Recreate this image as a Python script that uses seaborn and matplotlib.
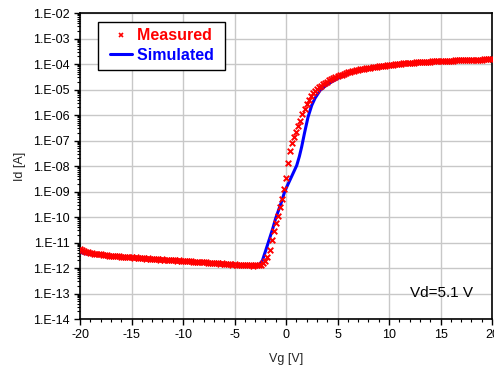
import numpy as np
import pandas as pd
import matplotlib
matplotlib.use("Agg")
import matplotlib.pyplot as plt
import seaborn as sns
from matplotlib.ticker import FixedLocator, LogLocator, FuncFormatter, MultipleLocator, NullFormatter
from matplotlib.lines import Line2D
from matplotlib.legend_handler import HandlerLine2D

# ---------------- data ----------------
vg_measured = [
    -20.0, -19.8, -19.6, -19.4, -19.2, -19.0, -18.8, -18.6, -18.4, -18.2,
    -18.0, -17.8, -17.6, -17.4, -17.2, -17.0, -16.8, -16.6, -16.4, -16.2,
    -16.0, -15.8, -15.6, -15.4, -15.2, -15.0, -14.8, -14.6, -14.4, -14.2,
    -14.0, -13.8, -13.6, -13.4, -13.2, -13.0, -12.8, -12.6, -12.4, -12.2,
    -12.0, -11.8, -11.6, -11.4, -11.2, -11.0, -10.8, -10.6, -10.4, -10.2,
    -10.0, -9.8, -9.6, -9.4, -9.2, -9.0, -8.8, -8.6, -8.4, -8.2,
    -8.0, -7.8, -7.6, -7.4, -7.2, -7.0, -6.8, -6.6, -6.4, -6.2,
    -6.0, -5.8, -5.6, -5.4, -5.2, -5.0, -4.8, -4.6, -4.4, -4.2,
    -4.0, -3.8, -3.6, -3.4, -3.2, -3.0,
    -2.8, -2.6, -2.4, -2.2, -2.0, -1.8, -1.6, -1.4, -1.2, -1.0,
    -0.8, -0.6, -0.4, -0.2, 0.0, 0.2, 0.4, 0.6, 0.8, 1.0,
    1.2, 1.4, 1.6, 1.8, 2.0, 2.2, 2.4, 2.6, 2.8, 3.0,
    3.2, 3.4, 3.6, 3.8, 4.0, 4.2, 4.4, 4.6, 4.8, 5.0,
    5.2, 5.4, 5.6, 5.8, 6.0, 6.2, 6.4, 6.6, 6.8, 7.0,
    7.2, 7.4, 7.6, 7.8, 8.0, 8.2, 8.4, 8.6, 8.8, 9.0,
    9.2, 9.4, 9.6, 9.8, 10.0, 10.2, 10.4, 10.6, 10.8, 11.0,
    11.2, 11.4, 11.6, 11.8, 12.0, 12.2, 12.4, 12.6, 12.8, 13.0,
    13.2, 13.4, 13.6, 13.8, 14.0, 14.2, 14.4, 14.6, 14.8, 15.0,
    15.2, 15.4, 15.6, 15.8, 16.0, 16.2, 16.4, 16.6, 16.8, 17.0,
    17.2, 17.4, 17.6, 17.8, 18.0, 18.2, 18.4, 18.6, 18.8, 19.0,
    19.2, 19.4, 19.6, 19.8, 20.0,
]
log_id_measured = [
    -11.25, -11.30, -11.34, -11.37, -11.39, -11.41, -11.42, -11.44, -11.45, -11.46,
    -11.47, -11.48, -11.50, -11.49, -11.51, -11.52, -11.51, -11.53, -11.54, -11.53,
    -11.55, -11.56, -11.55, -11.57, -11.58, -11.57, -11.59, -11.58, -11.60, -11.61,
    -11.60, -11.62, -11.63, -11.62, -11.64, -11.63, -11.65, -11.66, -11.65, -11.67,
    -11.66, -11.68, -11.67, -11.69, -11.68, -11.70, -11.69, -11.71, -11.70, -11.72,
    -11.71, -11.73, -11.72, -11.74, -11.73, -11.75, -11.76, -11.75, -11.77, -11.76,
    -11.78, -11.77, -11.79, -11.80, -11.79, -11.81, -11.80, -11.82, -11.83, -11.82,
    -11.84, -11.85, -11.84, -11.86, -11.87, -11.86, -11.88, -11.87, -11.89, -11.88,
    -11.89, -11.90, -11.89, -11.90, -11.91, -11.89,
    -11.90, -11.89, -11.87, -11.82, -11.72, -11.58, -11.30, -10.92, -10.55, -10.25,
    -9.95, -9.62, -9.30, -8.92, -8.48, -7.90, -7.42, -7.08, -6.88, -6.68,
    -6.45, -6.22, -5.98, -5.75, -5.55, -5.40, -5.26, -5.15, -5.06, -4.98,
    -4.91, -4.85, -4.79, -4.74, -4.69, -4.64, -4.60, -4.56, -4.52, -4.48,
    -4.45, -4.42, -4.39, -4.36, -4.33, -4.31, -4.29, -4.27, -4.25, -4.23,
    -4.21, -4.20, -4.18, -4.17, -4.15, -4.14, -4.13, -4.12, -4.10, -4.09,
    -4.08, -4.07, -4.06, -4.05, -4.04, -4.03, -4.02, -4.01, -4.00, -3.99,
    -3.99, -3.98, -3.97, -3.97, -3.96, -3.95, -3.95, -3.94, -3.94, -3.93,
    -3.93, -3.92, -3.92, -3.91, -3.91, -3.90, -3.90, -3.89, -3.89, -3.89,
    -3.88, -3.88, -3.88, -3.87, -3.87, -3.87, -3.86, -3.86, -3.86, -3.85,
    -3.85, -3.85, -3.84, -3.84, -3.84, -3.84, -3.83, -3.83, -3.83, -3.83,
    -3.82, -3.82, -3.82, -3.82, -3.81,
]
vg_simulated = [-20.0, -19.5, -19.0, -18.0, -16.0, -14.0, -12.0, -10.0, -8.0, -6.0,
                -5.0, -4.0, -3.0, -2.6, -2.3, -2.0, -1.6, -1.26, -1.0, -0.5,
                -0.1, 0.5, 1.04, 1.3, 1.52, 1.8, 2.14, 2.5, 2.82, 3.3,
                4.0, 5.0, 6.2, 8.0, 10.0, 12.5, 15.0, 17.5, 20.0]
log_id_simulated = [-11.38, -11.44, -11.47, -11.50, -11.56, -11.62, -11.67, -11.72, -11.78, -11.84,
                    -11.87, -11.89, -11.89, -11.86, -11.72, -11.35, -10.85, -10.42, -10.05, -9.48,
                    -8.97, -8.45, -7.98, -7.62, -7.25, -6.70, -6.08, -5.62, -5.34, -5.04,
                    -4.80, -4.57, -4.35, -4.16, -4.05, -3.97, -3.91, -3.86, -3.83]
y_exponents = [-14, -13, -12, -11, -10, -9, -8, -7, -6, -5, -4, -3, -2]
x_major_ticks = [-20, -15, -10, -5, 0, 5, 10, 15, 20]

# ---------------- plot ----------------
sns.set_style("white")
plt.rcParams["font.family"] = ["Liberation Sans", "DejaVu Sans"]
plt.rcParams["axes.unicode_minus"] = False

df_meas = pd.DataFrame({"Vg": vg_measured, "Id": 10.0 ** np.array(log_id_measured)})
df_sim = pd.DataFrame({"Vg": vg_simulated, "Id": 10.0 ** np.array(log_id_simulated)})

fig = plt.figure(figsize=(4.94, 3.66), dpi=100)
ax = fig.add_axes([80 / 494, 1 - 319 / 366, 412 / 494, 306 / 366])
ax.set_yscale("log")

sns.lineplot(data=df_sim, x="Vg", y="Id", ax=ax, color="#0000ff", linewidth=2.2,
             zorder=2, legend=False)
sns.scatterplot(data=df_meas, x="Vg", y="Id", ax=ax, marker="x", color="#ff0000",
                s=16, linewidth=1.4, zorder=3, legend=False)

ax.set_xlim(-20, 20)
ax.set_ylim(1e-14, 1e-2)
ax.yaxis.set_major_locator(FixedLocator([10.0 ** e for e in y_exponents]))
ax.yaxis.set_major_formatter(FuncFormatter(lambda v, p: f"1.E-{int(round(-np.log10(v))):02d}"))
ax.yaxis.set_minor_locator(LogLocator(base=10, subs=np.arange(2, 10), numticks=100))
ax.yaxis.set_minor_formatter(NullFormatter())
ax.xaxis.set_major_locator(FixedLocator(x_major_ticks))
ax.xaxis.set_minor_locator(MultipleLocator(1))

ax.grid(True, which="major", color="#c8c8c8", linewidth=1.0)
ax.grid(False, which="minor")
ax.set_axisbelow(True)
ax.tick_params(which="both", direction="out", left=True, bottom=True, colors="black")
ax.tick_params(which="major", length=4, width=1.0, labelsize=9)
ax.tick_params(which="minor", length=2.5, width=0.8)
for s in ax.spines.values():
    s.set_color("black")
    s.set_linewidth(1.2)

ax.set_xlabel("Vg [V]", fontsize=9, labelpad=8)
ax.set_ylabel("Id [A]", fontsize=9, labelpad=5)

ax.text(0.954, 0.085, "Vd=5.1 V", transform=ax.transAxes, ha="right", va="center",
        fontsize=11, color="black")

handles = [Line2D([], [], marker="x", color="#ff0000", linestyle="none", markersize=3.2,
                  markeredgewidth=1.2),
           Line2D([], [], color="#0000ff", linewidth=2.2)]
leg = ax.legend(handles, ["Measured ", "Simulated "], loc="upper left",
                bbox_to_anchor=(0.044, 0.972), borderaxespad=0, fancybox=False,
                framealpha=1, edgecolor="black", prop={"weight": "bold", "size": 11.5},
                handlelength=1.7, handletextpad=0.3, labelspacing=0.3, borderpad=0.42,
                handler_map={Line2D: HandlerLine2D(xpad=0.35)})
leg.get_frame().set_linewidth(1.0)
for t, c in zip(leg.get_texts(), ["#ff0000", "#0000ff"]):
    t.set_color(c)

fig.savefig("out.png", dpi=100)
